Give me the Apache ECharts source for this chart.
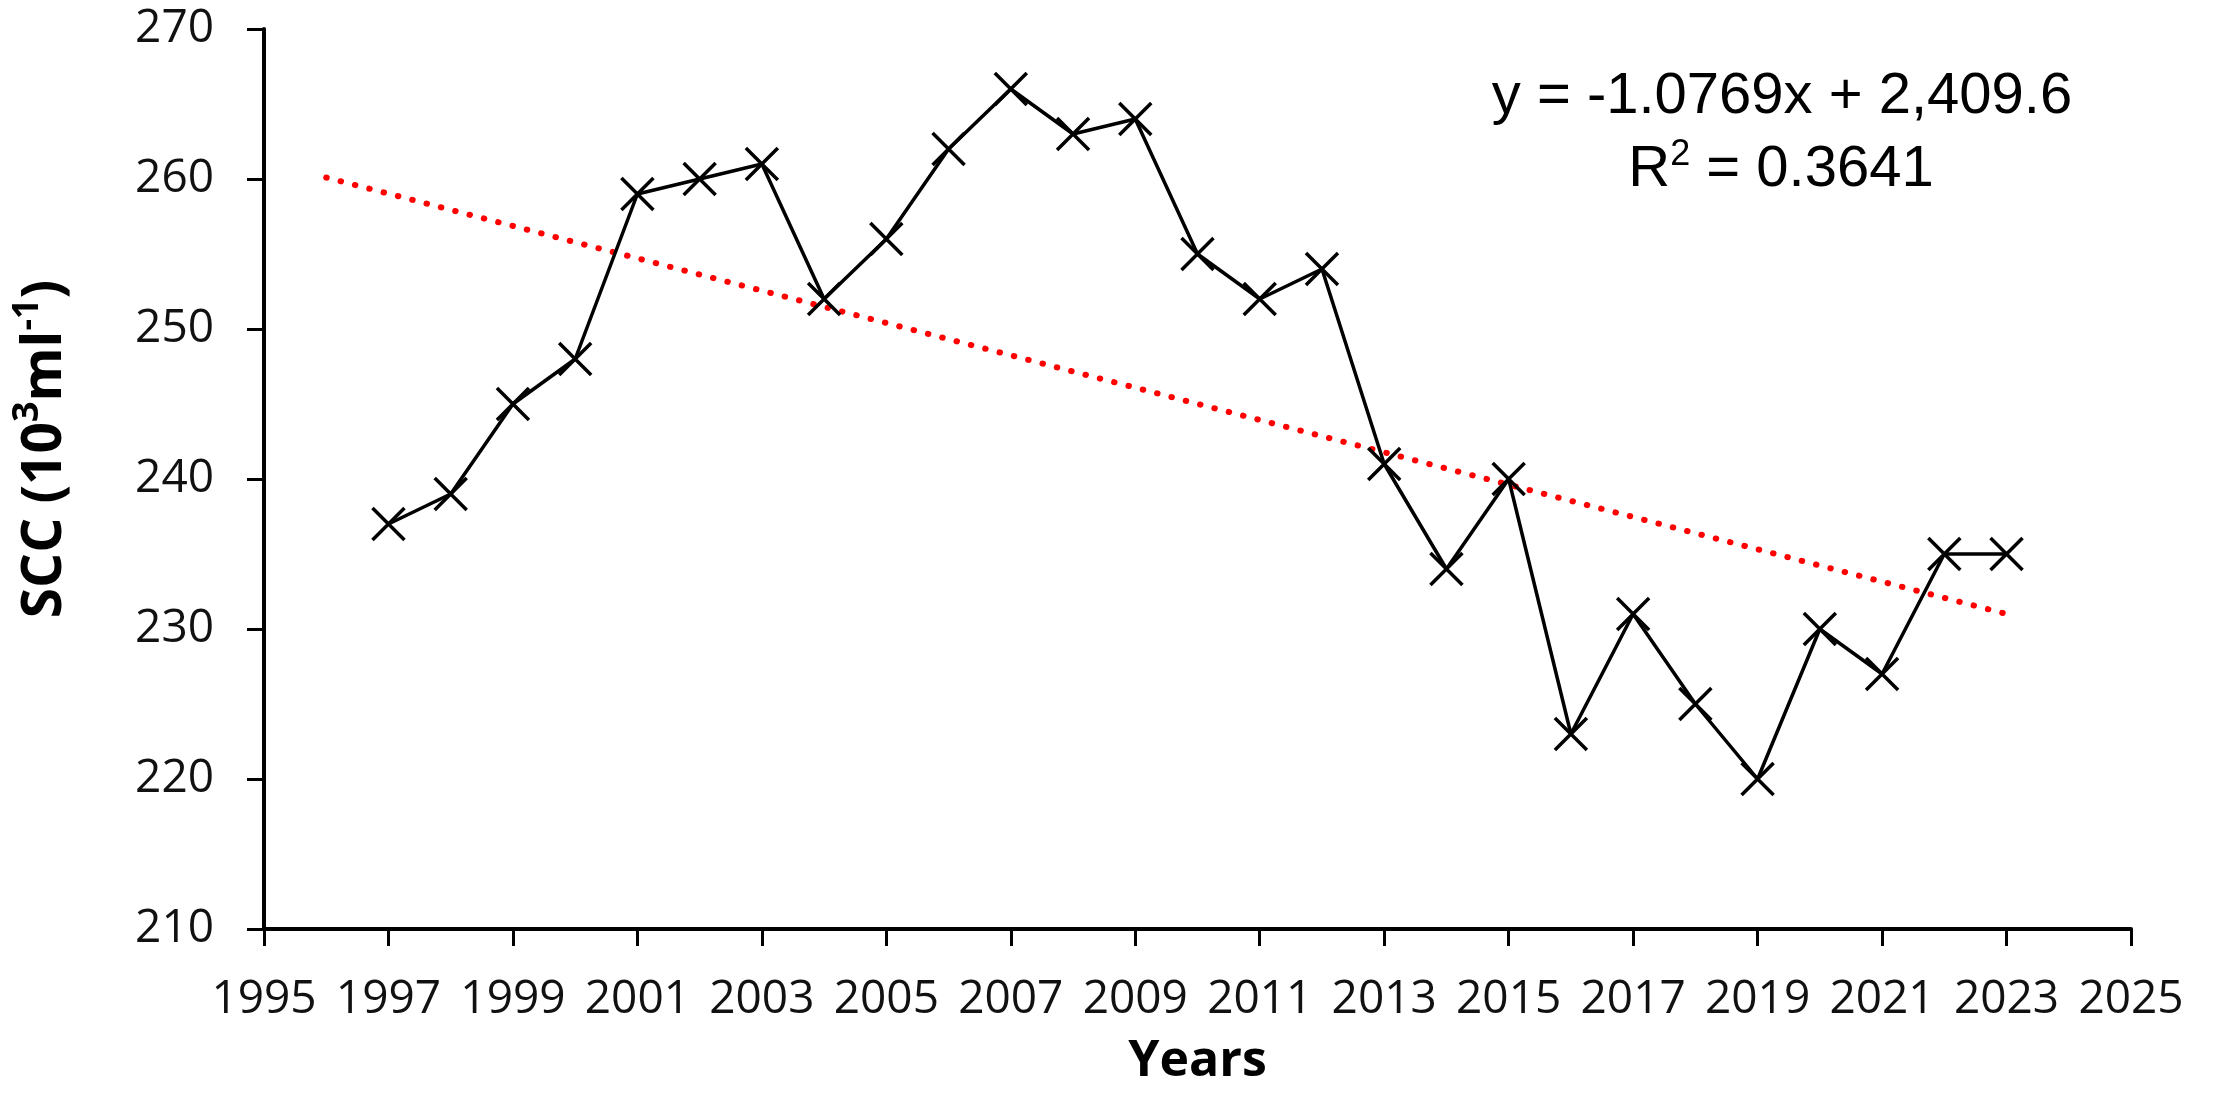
<!DOCTYPE html>
<html>
<head>
<meta charset="utf-8">
<script src="https://cdn.jsdelivr.net/npm/echarts@6/dist/echarts.min.js"></script>
<style>
html,body{margin:0;padding:0;background:#fff;}
#main{width:2213px;height:1094px;}
</style>
</head>
<body>
<div id="main"></div>
<script>
// Data
const years = [1997,1998,1999,2000,2001,2002,2003,2004,2005,2006,2007,2008,2009,2010,2011,2012,2013,2014,2015,2016,2017,2018,2019,2020,2021,2022,2023];
const scc   = [237,239,245,248,259,260,261,252,256,262,266,263,264,255,252,254,241,234,240,223,231,225,220,230,227,235,235];
const trendYears = [1996, 2023];
const trendValues = [260.1, 231.0];
const xTicks = [1995,1997,1999,2001,2003,2005,2007,2009,2011,2013,2015,2017,2019,2021,2023,2025];
const yTicks = [210,220,230,240,250,260,270];
const equationText = 'y = -1.0769x + 2,409.6';
const r2Text = '0.3641';

const chart = echarts.init(document.getElementById('main'), null, {renderer: 'canvas'});

const option = {
  animation: false,
  backgroundColor: '#ffffff',
  grid: {left: 264, right: 82, top: 29, bottom: 165, containLabel: false, outerBoundsMode: 'none'},
  xAxis: {
    type: 'value',
    min: xTicks[0],
    max: xTicks[xTicks.length - 1],
    splitLine: {show: false},
    axisLine: {show: true, onZero: false, lineStyle: {color: '#000', width: 4}},
    axisTick: {show: true, inside: false, length: 17, customValues: xTicks, lineStyle: {color: '#000', width: 3}},
    axisLabel: {customValues: xTicks, formatter: v => String(v), margin: 48, color: '#111',
      fontFamily: 'Open Sans', fontSize: 46},
    name: 'Years',
    nameLocation: 'middle',
    nameGap: 108,
    nameTextStyle: {fontFamily: 'Open Sans', fontWeight: 'bold', fontSize: 50, color: '#000'}
  },
  yAxis: {
    type: 'value',
    min: yTicks[0],
    max: yTicks[yTicks.length - 1],
    interval: 10,
    splitLine: {show: false},
    axisLine: {show: true, lineStyle: {color: '#000', width: 4}},
    axisTick: {show: true, inside: false, length: 17, lineStyle: {color: '#000', width: 3}},
    axisLabel: {margin: 50, color: '#111', fontFamily: 'Open Sans', fontSize: 46}
  },
  graphic: [
    {
      type: 'text',
      x: 45, y: 449,
      rotation: Math.PI / 2,
      style: {
        text: '{b|SCC (10}{s|3}{b|ml}{s|-1}{b|)}',
        align: 'center',
        verticalAlign: 'middle',
        fill: '#000',
        rich: {
          b: {fontFamily: 'Open Sans', fontWeight: 'bold', fontSize: 55, lineHeight: 70, fill: '#000'},
          s: {fontFamily: 'Open Sans', fontWeight: 'bold', fontSize: 36, lineHeight: 36, verticalAlign: 'top', fill: '#000'}
        }
      }
    },
    {
      type: 'text',
      x: 1782, y: 97,
      style: {
        text: equationText,
        align: 'center',
        verticalAlign: 'middle',
        fontFamily: 'Liberation Sans', fontSize: 58, fill: '#000'
      }
    },
    {
      type: 'text',
      x: 1781, y: 170,
      style: {
        text: '{n|R}{s|2}{n| = ' + r2Text + '}',
        align: 'center',
        verticalAlign: 'middle',
        rich: {
          n: {fontFamily: 'Liberation Sans', fontSize: 58, lineHeight: 66, fill: '#000'},
          s: {fontFamily: 'Liberation Sans', fontSize: 36, lineHeight: 40, verticalAlign: 'top', fill: '#000'}
        }
      }
    }
  ],
  series: [
    {
      type: 'line',
      name: 'Trend',
      data: trendYears.map((y, i) => [y, trendValues[i]]),
      showSymbol: false,
      symbol: 'none',
      lineStyle: {color: '#ff0000', width: 6, type: [0.5, 14.3], cap: 'round'},
      z: 2
    },
    {
      type: 'line',
      name: 'SCC',
      data: years.map((y, i) => [y, scc[i]]),
      symbol: 'path://M0,0L10,10M10,0L0,10',
      symbolSize: 32,
      showAllSymbol: true,
      itemStyle: {color: 'none', borderColor: '#000', borderWidth: 3.5},
      lineStyle: {color: '#000', width: 3.5},
      z: 3
    }
  ]
};
chart.setOption(option);
</script>
</body>
</html>
